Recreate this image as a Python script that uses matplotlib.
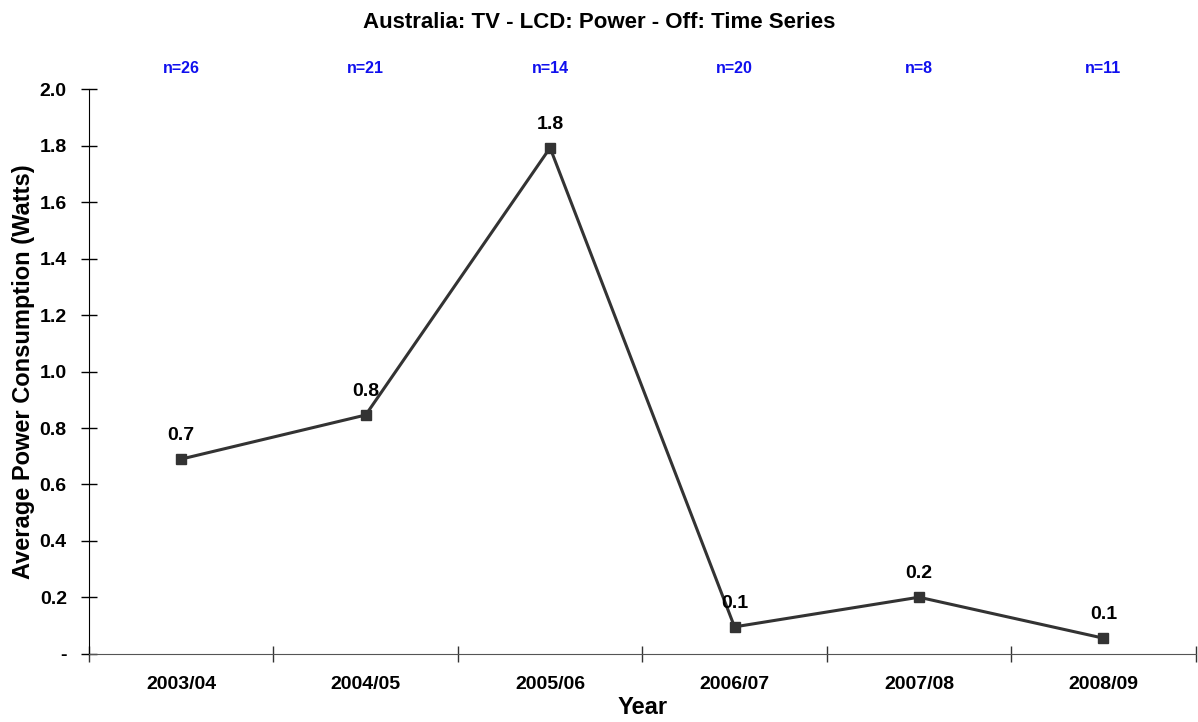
import matplotlib
matplotlib.use("Agg")
import matplotlib.pyplot as plt
import matplotlib.transforms as mtransforms
from matplotlib.ticker import FixedLocator, FuncFormatter

# ==========================
# DATOS
# ==========================

years = ["2003/04", "2004/05", "2005/06", "2006/07", "2007/08", "2008/09"]
power_avg = [0.69, 0.846, 1.792, 0.096, 0.201, 0.056]
labels = ["0.7", "0.8", "1.8", "0.1", "0.2", "0.1"]
n_counts = [26, 21, 14, 20, 8, 11]

plt.rcParams["font.family"] = ["Liberation Sans", "DejaVu Sans"]
plt.rcParams["font.weight"] = "bold"

fig = plt.figure(figsize=(11.98, 7.22), dpi=100)
ax = fig.add_axes([0.0743, 0.0942, 0.9237, 0.7825])

x = list(range(len(years)))
ax.plot(x, power_avg, color="#333333", linewidth=2.2, marker="s",
        markersize=7, markerfacecolor="#333333", markeredgecolor="#333333")

for xi, yi, lab in zip(x, power_avg, labels):
    ax.annotate(lab, (xi, yi), xytext=(0, 11), textcoords="offset points",
                ha="center", va="bottom", fontsize=14, fontweight="bold")

# n= etiquetas arriba del grafico
trans = mtransforms.blended_transform_factory(ax.transData, ax.transAxes)
for xi, n in zip(x, n_counts):
    ax.text(xi, 1.037, f"n={n}", transform=trans, ha="center", va="center",
            color="#1010ee", fontsize=11.5, fontweight="bold")

ax.set_xlim(-0.5, len(years) - 0.5)
ax.set_ylim(0, 2.0)

ax.set_xticks(x)
ax.set_xticklabels(years, fontsize=14, fontweight="bold")
ax.xaxis.set_minor_locator(FixedLocator([i - 0.5 for i in range(len(years) + 1)]))
ax.tick_params(axis="x", which="major", length=0, pad=16)
ax.tick_params(axis="x", which="minor", direction="inout", length=12, width=1, color="#333333")

yt = [0.0, 0.2, 0.4, 0.6, 0.8, 1.0, 1.2, 1.4, 1.6, 1.8, 2.0]
ax.set_yticks(yt)
ax.yaxis.set_major_formatter(FuncFormatter(lambda v, p: "-" if abs(v) < 1e-9 else f"{v:.1f}"))
ax.tick_params(axis="y", direction="inout", length=12, width=1, labelsize=14, pad=10)
for t in ax.get_yticklabels():
    t.set_fontweight("bold")

ax.spines["top"].set_visible(False)
ax.spines["right"].set_visible(False)
ax.spines["bottom"].set_color("#555555")
ax.spines["left"].set_color("black")

ax.set_xlabel("Year", fontsize=17, fontweight="bold", labelpad=2)
ax.set_ylabel("Average Power Consumption (Watts)", fontsize=17, fontweight="bold", labelpad=3)
fig.suptitle("Australia: TV - LCD: Power - Off: Time Series", y=0.983,
             fontsize=16, fontweight="bold")

fig.savefig("out.png", dpi=100)
